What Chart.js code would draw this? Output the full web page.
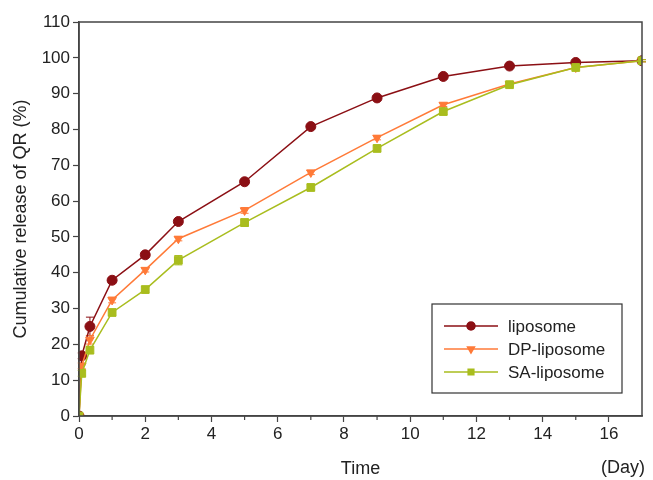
<!DOCTYPE html>
<html>
<head>
<meta charset="utf-8">
<script src="https://cdn.jsdelivr.net/npm/chart.js@4"></script>
<style>
  html, body { margin: 0; padding: 0; background: #fff; }
  #wrap { width: 653px; height: 480px; position: relative; }
</style>
</head>
<body>
<div id="wrap"><canvas id="releaseChart"></canvas></div>
<script>
// time points (days) and cumulative release (%)
const days = [0, 0.083, 0.33, 1, 2, 3, 5, 7, 9, 11, 13, 15, 17];
const liposome   = [0, 16.8, 25.0, 37.9, 45.0, 54.3, 65.4, 80.8, 88.8, 94.8, 97.7, 98.7, 99.2];
const dpLiposome = [0, 14.0, 21.3, 32.4, 40.8, 49.5, 57.4, 68.0, 77.7, 86.9, 92.7, 97.3, 99.2];
const saLiposome = [0, 11.9, 18.4, 28.9, 35.3, 43.5, 54.0, 63.8, 74.7, 85.0, 92.5, 97.3, 99.2];
// error bar half widths
const liposomeErr   = [0, 0.8, 2.6, 0.8, 0.6, 0.8, 0.6, 0.6, 0.5, 0.5, 0.4, 0.4, 0.3];
const dpLiposomeErr = [0, 0.8, 1.2, 0.8, 0.6, 0.6, 0.8, 0.6, 0.6, 0.5, 0.4, 0.4, 0.3];
const saLiposomeErr = [0, 0.8, 1.0, 0.8, 0.8, 1.3, 1.0, 0.8, 0.8, 0.8, 0.5, 0.4, 0.3];

const xTicks = [0, 2, 4, 6, 8, 10, 12, 14, 16];
const yTicks = [0, 10, 20, 30, 40, 50, 60, 70, 80, 90, 100, 110];

const FONT = '"Liberation Sans", Arial, sans-serif';
const AXIS = '#444';

function toPoints(vals) {
    return days.map((d, i) => ({ x: d, y: vals[i] }));
}

// error bars, drawn before the points
const errorBars = {
    id: 'errorBars',
    beforeDatasetsDraw(chart) {
        const ctx = chart.ctx;
        const xs = chart.scales.x, ys = chart.scales.y;
        chart.data.datasets.forEach(ds => {
            ctx.save();
            ctx.strokeStyle = ds.borderColor;
            ctx.lineWidth = 1;
            ds.errors.forEach((e, i) => {
                if (!e) return;
                const px = xs.getPixelForValue(days[i]);
                const top = ys.getPixelForValue(ds.data[i].y + e);
                const bot = ys.getPixelForValue(ds.data[i].y - e);
                ctx.beginPath();
                ctx.moveTo(px, top); ctx.lineTo(px, bot);
                ctx.moveTo(px - 4, top); ctx.lineTo(px + 4, top);
                ctx.moveTo(px - 4, bot); ctx.lineTo(px + 4, bot);
                ctx.stroke();
            });
            ctx.restore();
        });
    }
};

// frame, minor ticks, "(Day)" label and boxed legend
const decorations = {
    id: 'decorations',
    afterDraw(chart) {
        const ctx = chart.ctx;
        const a = chart.chartArea;
        const xs = chart.scales.x;
        ctx.save();
        ctx.strokeStyle = AXIS;
        ctx.lineWidth = 1.5;
        ctx.strokeRect(a.left, a.top, a.right - a.left, a.bottom - a.top);

        // minor ticks on odd days
        ctx.lineWidth = 1.2;
        for (let d = 1; d < 17; d += 2) {
            const px = xs.getPixelForValue(d);
            ctx.beginPath();
            ctx.moveTo(px, a.bottom);
            ctx.lineTo(px, a.bottom + 4);
            ctx.stroke();
        }

        ctx.fillStyle = '#222';
        ctx.font = '18px ' + FONT;
        ctx.textAlign = 'center';
        ctx.textBaseline = 'middle';
        ctx.fillText('(Day)', 623, 468);

        // legend
        const lx = 432, ly = 304, lw = 190, lh = 89;
        ctx.strokeStyle = '#333';
        ctx.lineWidth = 1.2;
        ctx.strokeRect(lx, ly, lw, lh);
        const entries = chart.data.datasets.slice().sort((p, q) => p.legendPos - q.legendPos);
        entries.forEach((ds, i) => {
            const y = ly + 22 + i * 23;
            ctx.strokeStyle = ds.borderColor;
            ctx.lineWidth = 1.5;
            ctx.beginPath();
            ctx.moveTo(lx + 12, y);
            ctx.lineTo(lx + 66, y);
            ctx.stroke();
            ctx.fillStyle = ds.borderColor;
            ctx.beginPath();
            Chart.helpers.drawPoint(ctx, {
                pointStyle: ds.pointStyle,
                rotation: ds.pointRotation || 0,
                radius: 4,
                borderWidth: 1
            }, lx + 39, y);
            ctx.fill();
            ctx.fillStyle = '#222';
            ctx.font = '17px ' + FONT;
            ctx.textAlign = 'left';
            ctx.fillText(ds.label, lx + 76, y + 1);
        });
        ctx.restore();
    }
};

const ctx = document.getElementById('releaseChart').getContext('2d');
new Chart(ctx, {
    type: 'line',
    data: {
        datasets: [
            {
                label: 'liposome',
                legendPos: 0,
                order: 2,
                data: toPoints(liposome),
                errors: liposomeErr,
                borderColor: '#8b0f14',
                backgroundColor: '#8b0f14',
                pointStyle: 'circle',
                pointRadius: 5
            },
            {
                label: 'DP-liposome',
                legendPos: 1,
                order: 1,
                data: toPoints(dpLiposome),
                errors: dpLiposomeErr,
                borderColor: '#ff7a38',
                backgroundColor: '#ff7a38',
                pointStyle: 'triangle',
                pointRotation: 180,
                rotation: 180,
                pointRadius: 5
            },
            {
                label: 'SA-liposome',
                legendPos: 2,
                order: 0,
                data: toPoints(saLiposome),
                errors: saLiposomeErr,
                borderColor: '#a9bd1e',
                backgroundColor: '#a9bd1e',
                pointStyle: 'rect',
                pointRadius: 5.5
            }
        ].map(ds => Object.assign({ borderWidth: 1.5, tension: 0, pointBorderWidth: 1 }, ds))
    },
    options: {
        responsive: true,
        maintainAspectRatio: false,
        animation: false,
        layout: { padding: { top: 22, right: 11, left: 0, bottom: 0 } },
        plugins: {
            legend: { display: false },
            tooltip: { enabled: false }
        },
        scales: {
            x: {
                type: 'linear',
                min: 0,
                max: 17,
                afterBuildTicks(scale) { scale.ticks = xTicks.map(v => ({ value: v })); },
                afterFit(scale) { scale.height = 64; },
                grid: { drawOnChartArea: false, drawTicks: true, tickLength: 6, tickColor: AXIS, tickWidth: 1.2 },
                border: { color: AXIS, width: 1.5 },
                ticks: { color: '#222', font: { family: FONT, size: 17 }, padding: 2, maxRotation: 0 },
                title: { display: true, text: 'Time', color: '#222', font: { family: FONT, size: 18 }, padding: { top: 4, bottom: 0 } }
            },
            y: {
                min: 0,
                max: 110,
                afterBuildTicks(scale) { scale.ticks = yTicks.map(v => ({ value: v })); },
                afterFit(scale) { scale.width = 79; },
                grid: { drawOnChartArea: false, drawTicks: true, tickLength: 6, tickColor: AXIS, tickWidth: 1.2 },
                border: { color: AXIS, width: 1.5 },
                ticks: { color: '#222', font: { family: FONT, size: 17 }, padding: 3 },
                title: { display: true, text: 'Cumulative release of QR (%)', color: '#222', font: { family: FONT, size: 18 }, padding: { top: 10, bottom: 2 } }
            }
        }
    },
    plugins: [errorBars, decorations]
});
</script>
</body>
</html>
